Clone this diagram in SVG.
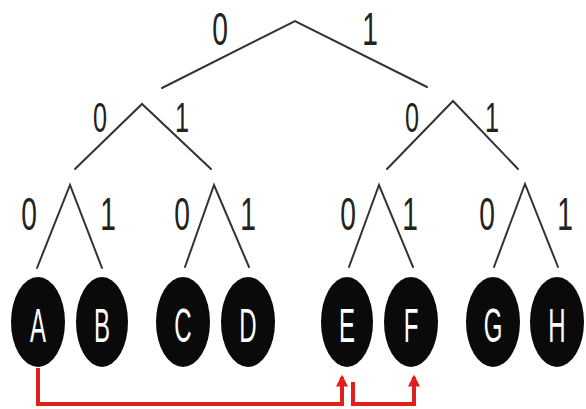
<svg xmlns="http://www.w3.org/2000/svg" width="586" height="409" viewBox="0 0 586 409">
<style>
.e{stroke:#333;stroke-width:2;fill:none;stroke-linecap:round}
.d{font-family:"Liberation Sans",Arial,sans-serif;font-size:42px;fill:#222;text-anchor:middle}
.t{font-size:47px}
.n{fill:#0a0a0a}
.l{font-family:"Liberation Sans",Arial,sans-serif;font-size:48px;fill:#fff;text-anchor:middle}
.r{stroke:#e0201a;stroke-width:4;fill:none;marker-end:url(#ah)}
</style>
<defs>
<marker id="ah" viewBox="0 0 10 10" refX="8" refY="5" markerWidth="3" markerHeight="3" orient="auto" markerUnits="strokeWidth">
<path d="M0,0 L10,5 L0,10 z" fill="#e0201a"/>
</marker>
</defs>
<rect width="586" height="409" fill="#fff"/>
<g id="connectors">
<path class="e" d="M162,88 L295,21 L427,87"/>
<path class="e" d="M75,169 L142,104 L211,169"/>
<path class="e" d="M387,169 L453,101 L518,169"/>
<path class="e" d="M37,268 L70,185 L102,268"/>
<path class="e" d="M185,267 L214,185 L249,267"/>
<path class="e" d="M349,267 L379,185 L413,267"/>
<path class="e" d="M494,267 L525,184 L558,267"/>
<text class="d t" transform="translate(220,45) scale(0.6,1)">0</text>
<text class="d t" transform="translate(370,45) scale(0.6,1)">1</text>
<text class="d" transform="translate(100,132) scale(0.6,1)">0</text>
<text class="d" transform="translate(182,132) scale(0.6,1)">1</text>
<text class="d" transform="translate(412,132) scale(0.6,1)">0</text>
<text class="d" transform="translate(492,132) scale(0.6,1)">1</text>
<text class="d t" transform="translate(29,230) scale(0.6,1)">0</text>
<text class="d t" transform="translate(108,230) scale(0.6,1)">1</text>
<text class="d t" transform="translate(182,230) scale(0.6,1)">0</text>
<text class="d t" transform="translate(248,230) scale(0.6,1)">1</text>
<text class="d t" transform="translate(348,230) scale(0.6,1)">0</text>
<text class="d t" transform="translate(410,230) scale(0.6,1)">1</text>
<text class="d t" transform="translate(487,230) scale(0.6,1)">0</text>
<text class="d t" transform="translate(565,230) scale(0.6,1)">1</text>
<path class="r" d="M38,368 V404 H342 V377"/>
<path class="r" d="M353,382 V404 H414 V377"/>
</g>
<g id="A"><ellipse class="n" cx="38" cy="322" rx="27" ry="45"/><text class="l" transform="translate(38,342) scale(0.5,1)">A</text></g>
<g id="B"><ellipse class="n" cx="102" cy="322" rx="26" ry="45"/><text class="l" transform="translate(102,342) scale(0.5,1)">B</text></g>
<g id="C"><ellipse class="n" cx="183" cy="322" rx="27" ry="45"/><text class="l" transform="translate(183,342) scale(0.5,1)">C</text></g>
<g id="D"><ellipse class="n" cx="248" cy="322" rx="27" ry="45"/><text class="l" transform="translate(248,342) scale(0.5,1)">D</text></g>
<g id="E"><ellipse class="n" cx="347" cy="322" rx="26" ry="45"/><text class="l" transform="translate(347,342) scale(0.5,1)">E</text></g>
<g id="F"><ellipse class="n" cx="411" cy="322" rx="27" ry="45"/><text class="l" transform="translate(411,342) scale(0.5,1)">F</text></g>
<g id="G"><ellipse class="n" cx="493" cy="322" rx="27" ry="45"/><text class="l" transform="translate(493,342) scale(0.5,1)">G</text></g>
<g id="H"><ellipse class="n" cx="557" cy="322" rx="27" ry="45"/><text class="l" transform="translate(557,342) scale(0.5,1)">H</text></g>
</svg>
